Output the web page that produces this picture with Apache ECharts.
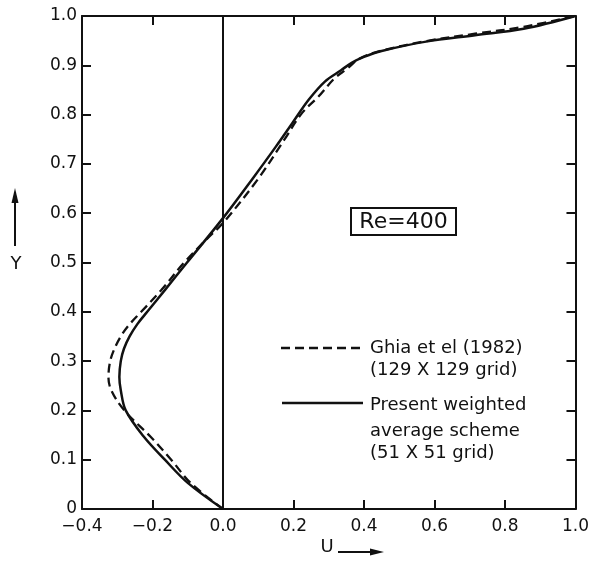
<!DOCTYPE html>
<html>
<head>
<meta charset="utf-8">
<script src="https://cdn.jsdelivr.net/npm/echarts@6/dist/echarts.min.js"></script>
<style>
  html, body { margin: 0; padding: 0; background: #fff; }
  #main { width: 592px; height: 561px; }
</style>
</head>
<body>
<div id="main"></div>
<script>
// U-velocity along the vertical centreline, Re = 400
// Ghia et al (1982), 129 x 129 grid  (dashed)
var ghiaY = [0, 0.053, 0.1, 0.147, 0.2, 0.241, 0.268, 0.3, 0.325, 0.35, 0.373, 0.4, 0.444, 0.5, 0.549, 0.58, 0.67, 0.748, 0.803, 0.836, 0.874, 0.894, 0.911, 0.921, 0.93, 0.949, 0.964, 0.978, 1.0];
var ghiaU = [0, -0.092, -0.147, -0.206, -0.28, -0.317, -0.325, -0.32, -0.308, -0.29, -0.267, -0.232, -0.175, -0.11, -0.044, 0, 0.1, 0.173, 0.224, 0.27, 0.317, 0.354, 0.381, 0.41, 0.45, 0.576, 0.715, 0.853, 1.0];
// present weighted average scheme, 51 x 51 grid  (solid)
var presY = [0, 0.053, 0.1, 0.147, 0.2, 0.241, 0.268, 0.3, 0.325, 0.35, 0.375, 0.4, 0.444, 0.5, 0.59, 0.671, 0.735, 0.782, 0.83, 0.867, 0.89, 0.905, 0.917, 0.929, 0.948, 0.961, 0.974, 1.0];
var presU = [0, -0.1, -0.165, -0.225, -0.276, -0.29, -0.294, -0.29, -0.281, -0.265, -0.243, -0.215, -0.165, -0.102, 0, 0.085, 0.15, 0.196, 0.243, 0.289, 0.335, 0.365, 0.4, 0.45, 0.576, 0.715, 0.853, 1.0];

var legendGhia = ['Ghia et el (1982)', '(129 X 129 grid)'];
var legendPres = ['Present weighted', 'average scheme', '(51 X 51 grid)'];
var reText = 'Re=400';

function pairs(us, ys) {
    return us.map(function (u, i) { return [u, ys[i]]; });
}

var FONT = 'DejaVu Sans';
var INK = '#111';

var axisCommon = {
    type: 'value',
    axisLine: { show: true, onZero: false, lineStyle: { color: INK, width: 2 } },
    axisTick: { show: true, inside: true, length: 9, lineStyle: { color: INK, width: 2 } },
    splitLine: { show: false }
};

var option = {
    animation: false,
    backgroundColor: '#fff',
    grid: { left: 82, right: 6, top: 16, bottom: 52, containLabel: false },
    xAxis: [
        Object.assign({}, axisCommon, {
            min: -0.4, max: 1.0, interval: 0.2, position: 'bottom',
            axisLabel: {
                color: INK, fontFamily: FONT, fontSize: 17, margin: 9,
                formatter: function (v) { return v.toFixed(1).replace('-', '\u2212'); }
            }
        }),
        Object.assign({}, axisCommon, {
            min: -0.4, max: 1.0, interval: 0.2, position: 'top',
            axisLabel: { show: false }
        })
    ],
    yAxis: [
        Object.assign({}, axisCommon, {
            min: 0, max: 1.0, interval: 0.1, position: 'left',
            axisLabel: {
                color: INK, fontFamily: FONT, fontSize: 17, margin: 5,
                formatter: function (v) { return v === 0 ? '0' : v.toFixed(1); }
            }
        }),
        Object.assign({}, axisCommon, {
            min: 0, max: 1.0, interval: 0.1, position: 'right',
            axisLabel: { show: false }
        })
    ],
    series: [
        {
            name: 'Ghia et el (1982)',
            type: 'line',
            data: pairs(ghiaU, ghiaY),
            smooth: 0.35,
            showSymbol: false,
            lineStyle: { color: INK, width: 2.3, type: [9, 5] }
        },
        {
            name: 'Present weighted average scheme',
            type: 'line',
            data: pairs(presU, presY),
            smooth: 0.35,
            showSymbol: false,
            lineStyle: { color: INK, width: 2.5, type: 'solid' },
            markLine: {
                silent: true,
                symbol: 'none',
                label: { show: false },
                lineStyle: { color: INK, width: 2, type: 'solid' },
                data: [{ xAxis: 0 }]
            }
        }
    ],
    graphic: [
        // Re box
        {
            type: 'rect', shape: { x: 351, y: 208, width: 105, height: 27 },
            style: { fill: '#fff', stroke: INK, lineWidth: 2 }
        },
        {
            type: 'text', x: 403.5, y: 222,
            style: { text: reText, fill: INK, font: '22px "DejaVu Sans"', align: 'center', verticalAlign: 'middle' }
        },
        // legend samples
        {
            type: 'line', shape: { x1: 281, y1: 348, x2: 363, y2: 348 },
            style: { stroke: INK, lineWidth: 2.3, lineDash: [9, 5] }
        },
        {
            type: 'line', shape: { x1: 282, y1: 403, x2: 363, y2: 403 },
            style: { stroke: INK, lineWidth: 2.5 }
        },
        {
            type: 'text', x: 370, y: 348,
            style: { text: legendGhia[0], fill: INK, font: '18px "DejaVu Sans"', verticalAlign: 'middle' }
        },
        {
            type: 'text', x: 370, y: 370,
            style: { text: legendGhia[1], fill: INK, font: '18px "DejaVu Sans"', verticalAlign: 'middle' }
        },
        {
            type: 'text', x: 370, y: 405,
            style: { text: legendPres[0], fill: INK, font: '18px "DejaVu Sans"', verticalAlign: 'middle' }
        },
        {
            type: 'text', x: 370, y: 431,
            style: { text: legendPres[1], fill: INK, font: '18px "DejaVu Sans"', verticalAlign: 'middle' }
        },
        {
            type: 'text', x: 370, y: 453,
            style: { text: legendPres[2], fill: INK, font: '18px "DejaVu Sans"', verticalAlign: 'middle' }
        },
        // Y axis name with up arrow
        {
            type: 'line', shape: { x1: 15, y1: 246, x2: 15, y2: 200 },
            style: { stroke: INK, lineWidth: 2 }
        },
        {
            type: 'polygon', shape: { points: [[15, 188], [11.5, 203], [18.5, 203]] },
            style: { fill: INK }
        },
        {
            type: 'text', x: 16, y: 264,
            style: { text: 'Y', fill: INK, font: '18px "DejaVu Sans"', align: 'center', verticalAlign: 'middle' }
        },
        // U axis name with right arrow
        {
            type: 'text', x: 327, y: 547,
            style: { text: 'U', fill: INK, font: '18px "DejaVu Sans"', align: 'center', verticalAlign: 'middle' }
        },
        {
            type: 'line', shape: { x1: 338, y1: 552, x2: 372, y2: 552 },
            style: { stroke: INK, lineWidth: 2 }
        },
        {
            type: 'polygon', shape: { points: [[384, 552], [370, 548.5], [370, 555.5]] },
            style: { fill: INK }
        }
    ]
};

var chart = echarts.init(document.getElementById('main'));
chart.setOption(option);
</script>
</body>
</html>
